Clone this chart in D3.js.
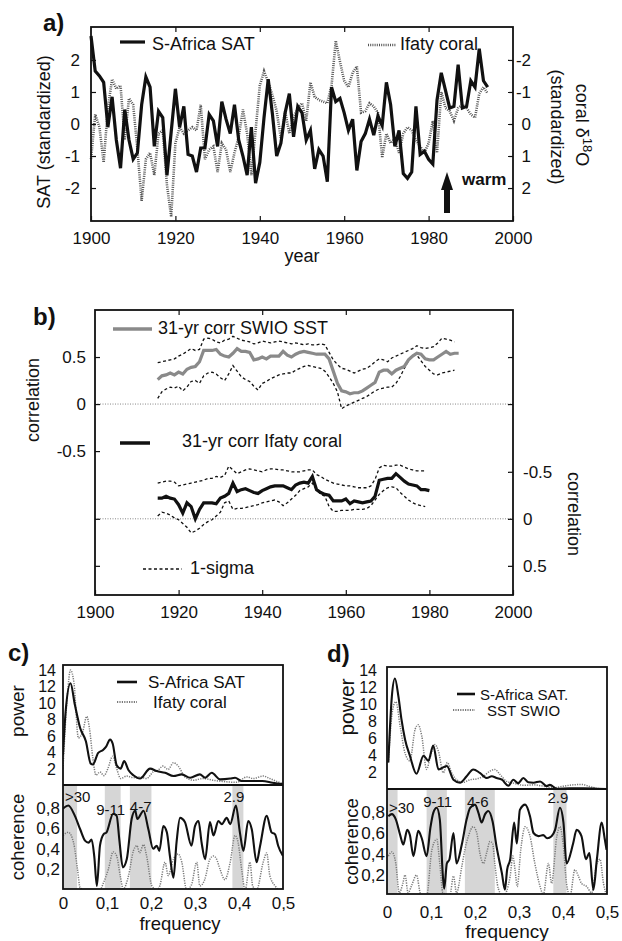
<!DOCTYPE html>
<html>
<head>
<meta charset="utf-8">
<script src="https://cdn.jsdelivr.net/npm/d3@7"></script>
<style>
  body { margin: 0; background: #fff; }
  svg text { font-family: "Liberation Sans", Arial, Helvetica, sans-serif; fill: #111; }
</style>
</head>
<body>
<svg id="chart" width="622" height="941"></svg>
<script>
// ---- panel a: annual standardized series 1900-1994
const satYears = d3.range(1900, 1995);
const satValues = [
  2.75, 1.65, 1.5, 1.3, -0.1, 0.85, -0.5, -1.38, 0.45, -0.5,
  -1.1, -0.9, 0.6, 1.47, 1.15, -0.7, 0.4, 0.2, -1.6, -0.25,
  1.1, -0.1, 0.55, -0.95, -1.0, -1.5, -0.75, -0.75, 0.3, 0.1,
  -0.7, 0.7, 0.15, -0.3, 0.6, -0.5, -1.0, -1.6, -0.1, -1.85,
  -1.2, 0.2, 1.4, 0.3, -1.0, -0.6, 0.35, 0.95, -0.4, 0.55,
  0.35, -0.5, -0.2, -1.4, -0.8, -1.0, -1.8, 1.15, 0.7, 0.8,
  0.35, -0.2, 0.15, -1.45, -0.55, -0.3, 0.15, -0.35, 0.25, -0.05,
  1.3, 0.6, -0.7, -0.2, -1.55, -1.7, -1.5, 0.55, -0.95, -0.85,
  -1.1, -1.25, 0.75, 1.6, 1.05, 0.5, 0.55, 1.85, 0.5, 0.55,
  1.35, 1.15, 2.35, 1.35, 1.15
];
// coral d18O (standardized), plotted on the reversed right axis
const coralValues = [
  1.1, -0.3, 0.1, 1.2, -0.5, -1.4, -1.1, -1.2, 0.5, -0.8,
  -0.6, 0.8, 2.4, 1.1, 0.9, 1.6, 0.3, 0.2, 1.9, 2.9,
  0.6, 0.1, 0.3, 0.2, 0.1, 0.2, -0.6, 1.1, 0.8, 0.7,
  1.5, 0.6, 0.8, 1.5, 0.9, 0.4, -0.45, 0.3, 1.6, 0.2,
  -1.2, -1.65, -1.3, -0.9, -0.4, 0.45, -0.4, 0.3, -0.2, -0.5,
  -0.65, -0.1, -1.3, -0.85, -0.75, -0.7, -0.65, -1.2, -2.6, -1.95,
  -1.35, -1.15, -1.6, -1.8, -0.35, -0.4, -0.65, -0.55, -0.35, 1.05,
  0.3, 0.6, 0.45, 0.9, 0.3, 0.1, 0.2, 0.5, 0.7, 0.9,
  0.6, -0.1, 0.9, -1.0, -0.5, -0.4, -0.1, -0.5, -0.6, -0.5,
  -0.3, -0.2, -0.95, -1.15, -0.95
];
const yearTicks = [1900, 1920, 1940, 1960, 1980, 2000];

// ---- panel b: 31-yr running correlations
const sstYears = d3.range(1915, 1988);
const sstCorr = [
  .26, .30, .31, .33, .31, .34, .32, .37, .39, .40,
  .45, .57, .57, .57, .58, .53, .51, .50, .54, .59,
  .56, .56, .55, .47, .48, .50, .48, .51, .51, .51,
  .56, .52, .50, .53, .55, .56, .55, .54, .53, .53,
  .53, .48, .35, .22, .14, .13, .11, .12, .12, .14,
  .17, .20, .23, .34, .36, .36, .32, .36, .38, .40,
  .47, .51, .54, .53, .48, .47, .47, .50, .53, .56,
  .53, .54, .54
];
const sstSigYears = d3.range(1915, 1987);
const sstUpper = [
  .44, .45, .46, .47, .48, .51, .53, .56, .59, .57,
  .58, .69, .70, .69, .66, .65, .68, .69, .72, .70,
  .68, .67, .66, .64, .65, .67, .66, .65, .66, .67,
  .66, .65, .64, .65, .64, .63, .64, .63, .63, .64,
  .63, .55, .47, .42, .38, .37, .35, .33, .35, .37,
  .38, .41, .45, .48, .47, .45, .49, .51, .53, .55,
  .57, .59, .62, .60, .59, .60, .61, .65, .70, .69,
  .68, .66
];
const sstLower = [
  .06, .13, .16, .18, .17, .19, .14, .18, .24, .25,
  .22, .30, .33, .34, .32, .28, .25, .32, .41, .35,
  .29, .26, .24, .19, .15, .22, .24, .27, .29, .31,
  .32, .33, .33, .36, .38, .40, .41, .40, .39, .38,
  .35, .29, .22, .13, -.05, -.02, .00, .02, .04, .06,
  .08, .11, .14, .16, .17, .18, .18, .22, .29, .38,
  .46, .52, .52, .46, .40, .36, .32, .31, .33, .34,
  .35, .36
];
const coralYears = d3.range(1915, 1981);
const coralCorr = [
  -.22, -.22, -.24, -.22, -.21, -.15, -.06, -.17, -.13, .00,
  -.10, -.17, -.17, -.17, -.16, -.22, -.24, -.27, -.38, -.29,
  -.31, -.32, -.30, -.28, -.27, -.30, -.32, -.34, -.35, -.35,
  -.35, -.33, -.31, -.36, -.38, -.39, -.38, -.45, -.31, -.28,
  -.26, -.25, -.19, -.19, -.19, -.21, -.16, -.19, -.18, -.17,
  -.18, -.19, -.24, -.41, -.42, -.43, -.43, -.48, -.44, -.40,
  -.37, -.36, -.35, -.31, -.31, -.30
];
const coralSigYears = d3.range(1915, 1980);
const coralUpper = [
  -.38, -.39, -.40, -.40, -.39, -.35, -.36, -.37, -.38, -.39,
  -.40, -.41, -.43, -.43, -.45, -.44, -.46, -.56, -.52, -.48,
  -.50, -.52, -.53, -.52, -.51, -.50, -.52, -.53, -.53, -.52,
  -.52, -.51, -.50, -.50, -.50, -.51, -.52, -.52, -.47, -.45,
  -.42, -.40, -.38, -.37, -.36, -.35, -.35, -.34, -.33, -.33,
  -.33, -.35, -.42, -.54, -.57, -.56, -.56, -.57, -.57, -.55,
  -.53, -.52, -.51, -.51, -.51
];
const coralLower = [
  -.03, -.07, -.06, -.04, -.01, .01, .05, .09, .15, .13,
  .10, .06, .03, .01, -.03, -.07, -.17, -.19, -.10, -.11,
  -.11, -.12, -.13, -.14, -.15, -.17, -.18, -.19, -.20, -.18,
  -.14, -.17, -.21, -.25, -.30, -.32, -.34, -.38, -.31, -.26,
  -.24, -.13, -.08, -.08, -.09, -.09, -.09, -.10, -.10, -.10,
  -.11, -.14, -.20, -.26, -.30, -.33, -.34, -.33, -.28, -.24,
  -.20, -.17, -.15, -.14, -.13
];

// ---- panels c, d: spectra [frequency, value]
const cPowSat = [[0,3.75],[0.006,9],[0.017,12.4],[0.027,9.8],[0.039,7.0],[0.052,5.4],[0.063,2.7],[0.068,2.6],[0.08,4.0],[0.091,4.35],[0.098,4.75],[0.107,5.6],[0.113,5.1],[0.122,2.5],[0.131,2.1],[0.139,3.0],[0.149,1.9],[0.16,1.3],[0.175,0.9],[0.198,2.1],[0.213,1.8],[0.232,1.6],[0.251,1.2],[0.27,1.4],[0.289,1.0],[0.311,1.4],[0.323,1.0],[0.338,1.6],[0.357,0.8],[0.38,0.9],[0.391,1.0],[0.406,0.6],[0.432,0.6],[0.453,0.6],[0.476,0.4],[0.5,0.2]];
const cPowCoral = [[0,2.1],[0.01,11],[0.017,14.0],[0.025,12.4],[0.035,5.8],[0.045,6.6],[0.054,8.4],[0.06,7],[0.068,3.3],[0.075,1.3],[0.084,1.7],[0.093,1.25],[0.102,2.1],[0.113,3.6],[0.122,2.1],[0.131,0.9],[0.145,1.2],[0.16,1.0],[0.175,1.1],[0.19,0.9],[0.205,1.7],[0.216,1.9],[0.227,2.4],[0.239,2.0],[0.251,2.8],[0.262,2.4],[0.277,1.1],[0.296,0.7],[0.318,0.9],[0.341,0.7],[0.372,0.5],[0.395,0.45],[0.418,1.1],[0.432,0.9],[0.455,1.2],[0.47,0.9],[0.491,0.45],[0.5,0.3]];
const cCohSat = [[0,0.79],[0.012,0.82],[0.027,0.72],[0.039,0.59],[0.05,0.48],[0.058,0.46],[0.065,0.49],[0.071,0.33],[0.077,0.04],[0.084,0.43],[0.092,0.54],[0.099,0.56],[0.114,0.74],[0.122,0.72],[0.128,0.49],[0.136,0.22],[0.145,0.30],[0.156,0.69],[0.164,0.77],[0.169,0.69],[0.183,0.77],[0.194,0.59],[0.205,0.40],[0.213,0.43],[0.219,0.38],[0.228,0.62],[0.236,0.56],[0.243,0.33],[0.251,0.12],[0.258,0.46],[0.266,0.70],[0.277,0.66],[0.292,0.43],[0.30,0.62],[0.308,0.67],[0.315,0.46],[0.323,0.30],[0.334,0.66],[0.342,0.53],[0.353,0.67],[0.361,0.64],[0.372,0.70],[0.38,0.64],[0.393,0.82],[0.402,0.56],[0.41,0.38],[0.421,0.67],[0.429,0.59],[0.44,0.27],[0.448,0.43],[0.463,0.72],[0.474,0.56],[0.482,0.54],[0.489,0.43],[0.5,0.33]];
const cCohCoral = [[0,0.53],[0.012,0.56],[0.024,0.46],[0.033,0.2],[0.039,0.02],[0.05,0],[0.084,0],[0.092,0.07],[0.103,0.2],[0.114,0.37],[0.122,0.33],[0.13,0.14],[0.137,0.01],[0.149,0.14],[0.16,0.38],[0.168,0.43],[0.174,0.36],[0.183,0.44],[0.19,0.33],[0.202,0.04],[0.213,0],[0.22,0.04],[0.232,0.27],[0.239,0.14],[0.251,0.3],[0.262,0.35],[0.27,0.27],[0.281,0],[0.292,0.05],[0.304,0.27],[0.311,0.04],[0.322,0.1],[0.334,0.3],[0.342,0.33],[0.349,0.3],[0.357,0.2],[0.368,0.1],[0.38,0.27],[0.391,0.53],[0.398,0.46],[0.406,0.2],[0.414,0],[0.425,0.27],[0.431,0.04],[0.44,0],[0.455,0.27],[0.463,0.36],[0.47,0.14],[0.482,0.04],[0.493,0],[0.5,0]];
const cBands = [[0, 0.032], [0.095, 0.131], [0.152, 0.201], [0.385, 0.41]];
const cBandLabels = ['>30', '9-11', '4-7', '2.9'];

const dPowSat = [[0.003,3.2],[0.011,10.9],[0.018,13.0],[0.026,10.9],[0.033,8.2],[0.041,5.9],[0.052,4.0],[0.067,1.9],[0.083,4.0],[0.094,3.4],[0.105,5.2],[0.117,2.4],[0.136,2.8],[0.151,1.2],[0.166,0.85],[0.181,1.6],[0.196,2.4],[0.211,2.0],[0.227,1.4],[0.238,1.6],[0.249,1.4],[0.261,1.2],[0.276,0.5],[0.287,1.2],[0.298,0.8],[0.31,1.4],[0.321,0.9],[0.333,0.85],[0.348,1.0],[0.363,0.45],[0.37,0.6],[0.386,0.15],[0.416,0.2],[0.446,0.2],[0.477,0.15],[0.499,0.1]];
const dPowSst = [[0.003,3.2],[0.013,9.4],[0.02,10.3],[0.03,7.4],[0.041,4.3],[0.052,3.4],[0.064,7.1],[0.071,7.6],[0.079,6.3],[0.09,2.4],[0.098,3.8],[0.109,5.3],[0.117,4.5],[0.128,2.0],[0.137,3.2],[0.147,2.0],[0.158,1.2],[0.173,0.9],[0.189,1.2],[0.204,1.3],[0.219,1.6],[0.234,2.2],[0.245,2.4],[0.257,1.8],[0.272,1.0],[0.287,0.8],[0.31,0.55],[0.333,0.6],[0.355,0.45],[0.378,0.25],[0.401,0.45],[0.423,0.6],[0.442,0.65],[0.461,0.4],[0.484,0.15],[0.499,0.15]];
const dCohSat = [[0.003,0.76],[0.011,0.78],[0.02,0.73],[0.03,0.58],[0.037,0.49],[0.046,0.63],[0.052,0.58],[0.06,0.38],[0.071,0.62],[0.079,0.55],[0.09,0.38],[0.099,0.66],[0.105,0.79],[0.113,0.84],[0.12,0.73],[0.127,0.19],[0.13,0.07],[0.136,0.31],[0.142,0.35],[0.151,0.6],[0.158,0.31],[0.17,0.49],[0.181,0.73],[0.189,0.84],[0.2,0.87],[0.208,0.79],[0.215,0.7],[0.223,0.78],[0.23,0.81],[0.24,0.71],[0.249,0.47],[0.261,0.22],[0.268,0.06],[0.273,0.25],[0.28,0.35],[0.289,0.7],[0.295,0.5],[0.302,0.82],[0.314,0.87],[0.325,0.76],[0.333,0.6],[0.344,0.57],[0.355,0.58],[0.364,0.55],[0.374,0.57],[0.382,0.63],[0.393,0.84],[0.401,0.7],[0.408,0.31],[0.423,0.5],[0.431,0.63],[0.442,0.57],[0.452,0.35],[0.46,0.41],[0.469,0.06],[0.477,0.35],[0.488,0.7],[0.495,0.54],[0.499,0.44]];
const dCohSst = [[0.003,0.38],[0.011,0.42],[0.02,0.31],[0.028,0.03],[0.036,0.12],[0.041,0.2],[0.048,0.03],[0.056,0.1],[0.067,0.2],[0.077,0.01],[0.09,0],[0.102,0.44],[0.113,0.54],[0.12,0.31],[0.127,0.03],[0.143,0.01],[0.151,0.19],[0.158,0.03],[0.17,0.28],[0.177,0.44],[0.185,0.57],[0.196,0.66],[0.204,0.6],[0.211,0.41],[0.219,0.31],[0.227,0.42],[0.234,0.52],[0.24,0.5],[0.245,0.31],[0.253,0.07],[0.264,0],[0.28,0.19],[0.286,0.38],[0.291,0.25],[0.296,0.09],[0.304,0.44],[0.314,0.66],[0.325,0.57],[0.336,0.31],[0.348,0.09],[0.355,0.01],[0.367,0.31],[0.374,0.12],[0.386,0.57],[0.393,0.66],[0.401,0.47],[0.408,0.12],[0.416,0],[0.427,0.25],[0.435,0.19],[0.442,0.12],[0.454,0.09],[0.465,0.03],[0.477,0.31],[0.484,0.35],[0.492,0.12],[0.499,0]];
const dBands = [[0, 0.024], [0.09, 0.136], [0.177, 0.245], [0.378, 0.408]];
const dBandLabels = ['>30', '9-11', '4-6', '2.9'];

const powTicks = [2, 4, 6, 8, 10, 12, 14];
const cohTicks = [0.2, 0.4, 0.6, 0.8];
const freqTicks = [0, 0.1, 0.2, 0.3, 0.4, 0.5];

const svg = d3.select('#chart');
const FONT = '"Liberation Sans", Arial, Helvetica, sans-serif';
const comma = d => d === 0 ? '0' : String(d).replace('.', ',');

function tidy(g, size) {
  g.attr('font-family', FONT).attr('font-size', size);
  g.select('.domain').remove();
  g.selectAll('line').attr('stroke', '#111').attr('stroke-width', 1.2);
  g.selectAll('text').attr('fill', '#111');
  return g;
}

function label(x, y, txt, size, opts) {
  opts = opts || {};
  const t = svg.append('text')
    .attr('x', x).attr('y', y)
    .attr('font-size', size)
    .attr('text-anchor', opts.anchor || 'start')
    .attr('font-weight', opts.bold ? 'bold' : null)
    .text(txt);
  if (opts.rotate) t.attr('transform', 'rotate(' + opts.rotate + ',' + x + ',' + y + ')');
  return t;
}

// ================= panel a =================
(function () {
  const x0 = 91, x1 = 513, top = 27, bottom = 221;
  const x = d3.scaleLinear().domain([1900, 2000]).range([x0, x1]);
  const yL = d3.scaleLinear().domain([-3.03, 3.03]).range([bottom, top]);
  const yR = d3.scaleLinear().domain([-3.03, 3.03]).range([top, bottom]);

  const coralLine = d3.line().x((d, i) => x(satYears[i])).y(d => yR(d));
  const satLine = d3.line().x((d, i) => x(satYears[i])).y(d => yL(d));

  svg.append('path').datum(coralValues).attr('d', coralLine)
    .attr('fill', 'none').attr('stroke', '#555').attr('stroke-width', 2.6)
    .attr('stroke-dasharray', '1,1.2');
  svg.append('path').datum(satValues).attr('d', satLine)
    .attr('fill', 'none').attr('stroke', '#111').attr('stroke-width', 3.2)
    .attr('stroke-linejoin', 'miter');

  svg.append('rect').attr('x', x0).attr('y', top).attr('width', x1 - x0).attr('height', bottom - top)
    .attr('fill', 'none').attr('stroke', '#111').attr('stroke-width', 1.8);

  tidy(svg.append('g').attr('transform', `translate(0,${bottom})`)
    .call(d3.axisBottom(x).tickValues(yearTicks).tickFormat(d3.format('d')).tickSize(-5).tickSizeOuter(0).tickPadding(11)), 17);
  tidy(svg.append('g').attr('transform', `translate(0,${top})`)
    .call(d3.axisTop(x).tickValues(yearTicks.slice(1, -1)).tickFormat('').tickSize(-5).tickSizeOuter(0)), 17);
  tidy(svg.append('g').attr('transform', `translate(${x0},0)`)
    .call(d3.axisLeft(yL).tickValues([-2, -1, 0, 1, 2]).tickFormat(d => String(d)).tickSize(-5).tickSizeOuter(0).tickPadding(11)), 17);
  const gr = tidy(svg.append('g').attr('transform', `translate(${x1},0)`)
    .call(d3.axisRight(yR).tickValues([-2, -1, 0, 1, 2]).tickFormat(d => String(d)).tickSize(-5).tickSizeOuter(0).tickPadding(18)), 17);
  gr.selectAll('text').attr('text-anchor', 'end');

  label(43, 31, 'a)', 24, { bold: true });
  label(302, 262, 'year', 18, { anchor: 'middle' });
  label(50, 132, 'SAT (standardized)', 18, { anchor: 'middle', rotate: -90 });
  const rl = svg.append('text').attr('x', 576).attr('y', 125).attr('font-size', 18)
    .attr('text-anchor', 'middle').attr('transform', 'rotate(90,576,125)');
  rl.append('tspan').text('coral δ');
  rl.append('tspan').attr('dy', -7).attr('font-size', 13).text('18');
  rl.append('tspan').attr('dy', 7).text('O');
  label(551, 127, '(standardized)', 18, { anchor: 'middle', rotate: 90 });

  // legend
  svg.append('line').attr('x1', 120).attr('x2', 145).attr('y1', 42).attr('y2', 42)
    .attr('stroke', '#111').attr('stroke-width', 3.2);
  label(152, 50, 'S-Africa SAT', 18);
  svg.append('line').attr('x1', 368).attr('x2', 396).attr('y1', 45).attr('y2', 45)
    .attr('stroke', '#555').attr('stroke-width', 2.6).attr('stroke-dasharray', '1,1.2');
  label(400, 50, 'Ifaty coral', 18);

  // warm arrow
  svg.append('path').attr('d', 'M444,213 L444,190 L441,190 L447,172 L453,190 L450,190 L450,213 Z').attr('fill', '#111');
  label(462, 185, 'warm', 17, { bold: true });
})();

// ================= panel b =================
(function () {
  const x0 = 95, x1 = 513, top = 310, bottom = 595;
  const x = d3.scaleLinear().domain([1900, 2000]).range([x0, x1]);
  const yL = d3.scaleLinear().domain([-2.03, 1.0]).range([bottom, top]);
  const yR = d3.scaleLinear().domain([-2.22, 0.81]).range([top, bottom]);

  // zero lines
  [yL(0), yR(0)].forEach(yy => {
    svg.append('line').attr('x1', x0).attr('x2', x1).attr('y1', yy).attr('y2', yy)
      .attr('stroke', '#888').attr('stroke-width', 1).attr('stroke-dasharray', '1,1.5');
  });

  const sig = (yrs, sc) => d3.line().x((d, i) => x(yrs[i])).y(d => sc(d));
  const dash = p => p.attr('fill', 'none').attr('stroke', '#111').attr('stroke-width', 1.3).attr('stroke-dasharray', '3,2.5');
  dash(svg.append('path').datum(sstUpper).attr('d', sig(sstSigYears, yL)));
  dash(svg.append('path').datum(sstLower).attr('d', sig(sstSigYears, yL)));
  dash(svg.append('path').datum(coralUpper).attr('d', sig(coralSigYears, yR)));
  dash(svg.append('path').datum(coralLower).attr('d', sig(coralSigYears, yR)));

  svg.append('path').datum(sstCorr).attr('d', sig(sstYears, yL))
    .attr('fill', 'none').attr('stroke', '#8a8a8a').attr('stroke-width', 3.2);
  svg.append('path').datum(coralCorr).attr('d', sig(coralYears, yR))
    .attr('fill', 'none').attr('stroke', '#111').attr('stroke-width', 3.2);

  svg.append('rect').attr('x', x0).attr('y', top).attr('width', x1 - x0).attr('height', bottom - top)
    .attr('fill', 'none').attr('stroke', '#111').attr('stroke-width', 1.8);

  tidy(svg.append('g').attr('transform', `translate(0,${bottom})`)
    .call(d3.axisBottom(x).tickValues(yearTicks).tickFormat(d3.format('d')).tickSize(-5).tickSizeOuter(0).tickPadding(11)), 17);
  tidy(svg.append('g').attr('transform', `translate(0,${top})`)
    .call(d3.axisTop(x).tickValues(yearTicks.slice(1, -1)).tickFormat('').tickSize(-5).tickSizeOuter(0)), 17);
  tidy(svg.append('g').attr('transform', `translate(${x0},0)`)
    .call(d3.axisLeft(yL).tickValues([0.5, 0, -0.5]).tickFormat(d => String(d)).tickSize(-5).tickSizeOuter(0).tickPadding(9)), 17);
  tidy(svg.append('g').attr('transform', `translate(${x0},0)`)
    .call(d3.axisLeft(yR).tickValues([0, 0.5]).tickFormat('').tickSize(-5).tickSizeOuter(0)), 17);
  tidy(svg.append('g').attr('transform', `translate(${x1},0)`)
    .call(d3.axisRight(yR).tickValues([-0.5, 0, 0.5]).tickFormat(d => String(d)).tickSize(-5).tickSizeOuter(0).tickPadding(10)), 17);
  tidy(svg.append('g').attr('transform', `translate(${x1},0)`)
    .call(d3.axisRight(yL).tickValues([0.5, 0]).tickFormat('').tickSize(-5).tickSizeOuter(0)), 17);

  label(33, 325, 'b)', 24, { bold: true });
  label(39, 400, 'correlation', 18, { anchor: 'middle', rotate: -90 });
  label(568, 514, 'correlation', 18, { anchor: 'middle', rotate: 90 });

  svg.append('line').attr('x1', 113).attr('x2', 152).attr('y1', 329).attr('y2', 329)
    .attr('stroke', '#8a8a8a').attr('stroke-width', 3.5);
  label(158, 334, '31-yr corr SWIO SST', 18);
  svg.append('line').attr('x1', 120).attr('x2', 150).attr('y1', 443).attr('y2', 443)
    .attr('stroke', '#111').attr('stroke-width', 3.5);
  label(182, 447, '31-yr corr Ifaty coral', 18);
  svg.append('line').attr('x1', 143).attr('x2', 182).attr('y1', 569).attr('y2', 569)
    .attr('stroke', '#111').attr('stroke-width', 1.3).attr('stroke-dasharray', '3,2.5');
  label(190, 574, '1-sigma', 18);
})();

// ================= panels c, d =================
function spectrum(cfg) {
  const x = d3.scaleLinear().domain([0, 0.5]).range([cfg.x0, cfg.x1]);
  const yP = d3.scaleLinear().domain([0, 14]).range(cfg.powRange);
  const yC = d3.scaleLinear().domain([0, 1]).range(cfg.cohRange);
  const defs = svg.append('defs');
  defs.append('clipPath').attr('id', cfg.id + 'p').append('rect')
    .attr('x', cfg.x0).attr('y', cfg.top).attr('width', cfg.x1 - cfg.x0).attr('height', cfg.mid - cfg.top);
  defs.append('clipPath').attr('id', cfg.id + 'c').append('rect')
    .attr('x', cfg.x0).attr('y', cfg.mid).attr('width', cfg.x1 - cfg.x0).attr('height', cfg.bottom - cfg.mid);

  svg.append('g').selectAll('rect').data(cfg.bands).join('rect')
    .attr('x', d => x(d[0])).attr('width', d => x(d[1]) - x(d[0]))
    .attr('y', cfg.mid).attr('height', cfg.bottom - cfg.mid).attr('fill', '#d6d6d6');

  const lp = d3.line().x(d => x(d[0])).y(d => yP(d[1])).curve(d3.curveMonotoneX);
  const lc = d3.line().x(d => x(d[0])).y(d => yC(d[1])).curve(d3.curveMonotoneX);
  const dotted = p => p.attr('fill', 'none').attr('stroke', '#7a7a7a').attr('stroke-width', 1.5).attr('stroke-dasharray', '1.2,1.2');
  const solid = p => p.attr('fill', 'none').attr('stroke', '#111').attr('stroke-width', 2.1);

  dotted(svg.append('path').datum(cfg.pow2).attr('d', lp).attr('clip-path', `url(#${cfg.id}p)`));
  solid(svg.append('path').datum(cfg.pow1).attr('d', lp).attr('clip-path', `url(#${cfg.id}p)`));
  dotted(svg.append('path').datum(cfg.coh2).attr('d', lc).attr('clip-path', `url(#${cfg.id}c)`));
  solid(svg.append('path').datum(cfg.coh1).attr('d', lc).attr('clip-path', `url(#${cfg.id}c)`));

  svg.append('rect').attr('x', cfg.x0).attr('y', cfg.top).attr('width', cfg.x1 - cfg.x0).attr('height', cfg.bottom - cfg.top)
    .attr('fill', 'none').attr('stroke', '#111').attr('stroke-width', 1.8);
  svg.append('line').attr('x1', cfg.x0).attr('x2', cfg.x1).attr('y1', cfg.mid).attr('y2', cfg.mid)
    .attr('stroke', '#111').attr('stroke-width', 1.8);

  tidy(svg.append('g').attr('transform', `translate(${cfg.x0},0)`)
    .call(d3.axisLeft(yP).tickValues(powTicks).tickSize(0).tickPadding(cfg.padP)), cfg.tickSize);
  tidy(svg.append('g').attr('transform', `translate(${cfg.x0},0)`)
    .call(d3.axisLeft(yC).tickValues(cohTicks).tickFormat(comma).tickSize(0).tickPadding(cfg.padC)), 17);
  tidy(svg.append('g').attr('transform', `translate(0,${cfg.bottom})`)
    .call(d3.axisBottom(x).tickValues(freqTicks).tickFormat(comma).tickSize(0).tickPadding(cfg.padF)), 17);

  // band labels
  cfg.bandLabels.forEach((t, i) => {
    const b = cfg.bands[i];
    const first = i === 0;
    label(first ? x(b[0]) + 2 : (x(b[0]) + x(b[1])) / 2 + cfg.labDx[i], cfg.mid + cfg.labDy[i], t, 15,
      { anchor: first ? 'start' : 'middle' });
  });

  label(cfg.tagX, cfg.tagY, cfg.tag, 24, { bold: true });
  label(cfg.yLabX, (cfg.top + cfg.mid) / 2 + cfg.powDy, 'power', cfg.powSize, { anchor: 'middle', rotate: -90 });
  label(cfg.yLabX + cfg.cohDx, (cfg.mid + cfg.bottom) / 2, 'coherence', 18.5, { anchor: 'middle', rotate: -90 });
  label((cfg.x0 + cfg.x1) / 2 + cfg.freqDx, cfg.freqY, 'frequency', cfg.freqSize, { anchor: 'middle' });

  // legend
  const L = cfg.legend;
  svg.append('line').attr('x1', L.lx0).attr('x2', L.lx1).attr('y1', L.y1).attr('y2', L.y1)
    .attr('stroke', '#111').attr('stroke-width', 2.6);
  label(L.tx1, L.y1 + 6, cfg.names[0], L.size);
  svg.append('line').attr('x1', L.lx0 - L.dx).attr('x2', L.lx1).attr('y1', L.y2).attr('y2', L.y2)
    .attr('stroke', '#7a7a7a').attr('stroke-width', 2).attr('stroke-dasharray', '1.2,1.2');
  label(L.tx2, L.y2 + 6, cfg.names[1], L.size);
}

spectrum({
  id: 'c', tag: 'c)', tagX: 8, tagY: 661,
  x0: 63, x1: 283, top: 665, mid: 785, bottom: 889,
  powRange: [786, 670], cohRange: [890, 787],
  pow1: cPowSat, pow2: cPowCoral, coh1: cCohSat, coh2: cCohCoral,
  bands: cBands, bandLabels: cBandLabels, labDx: [0, -2, 0, -4], labDy: [17, 30, 27, 17],
  padP: 7, padC: 3, padF: 8, tickSize: 16,
  yLabX: 24, powDy: -14, powSize: 19, cohDx: 0, freqDx: 7, freqY: 930, freqSize: 18.5,
  names: ['S-Africa SAT', 'Ifaty coral'],
  legend: { lx0: 117, lx1: 137, dx: 0, y1: 682, y2: 702, tx1: 148, tx2: 153, size: 17 }
});

spectrum({
  id: 'd', tag: 'd)', tagX: 327, tagY: 662,
  x0: 387, x1: 607, top: 667, mid: 789, bottom: 894,
  powRange: [790, 670], cohRange: [896, 791],
  pow1: dPowSat, pow2: dPowSst, coh1: dCohSat, coh2: dCohSst,
  bands: dBands, bandLabels: dBandLabels, labDx: [0, 1, -2, -2], labDy: [24, 18, 18, 14],
  padP: 10, padC: 2, padF: 12, tickSize: 16,
  yLabX: 354, powDy: -21, powSize: 21, cohDx: 4, freqDx: 10, freqY: 938, freqSize: 19,
  names: ['S-Africa SAT.', 'SST SWIO'],
  legend: { lx0: 457, lx1: 475, dx: 4, y1: 694, y2: 710, tx1: 480, tx2: 487, size: 15 }
});
</script>
</body>
</html>
